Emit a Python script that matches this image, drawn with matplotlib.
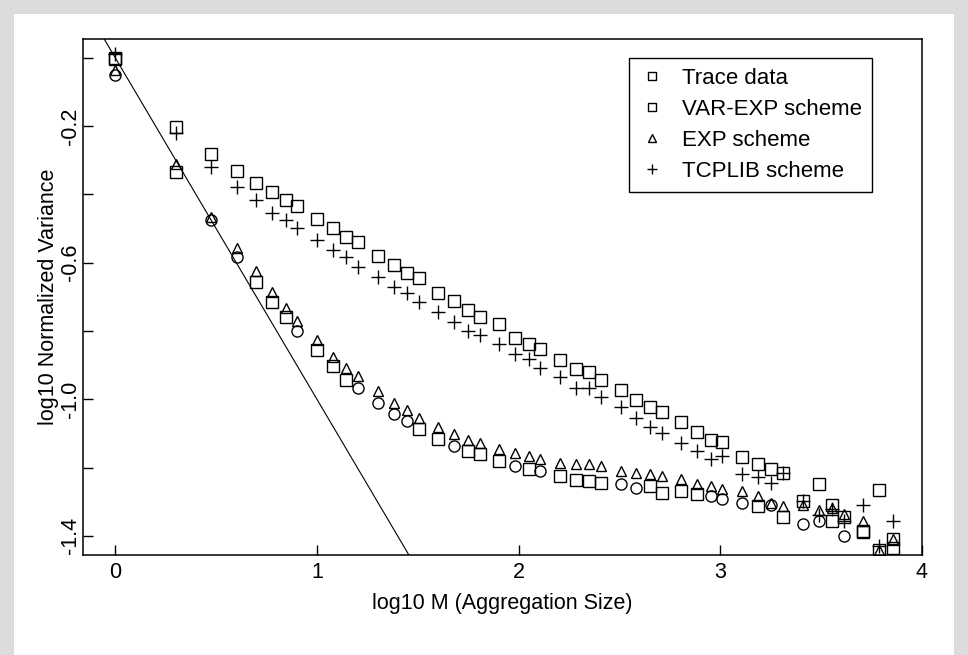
import numpy as np
import matplotlib
matplotlib.use("Agg")
import matplotlib.pyplot as plt
from matplotlib.patches import Rectangle

plt.rcParams['font.family'] = ['Liberation Sans', 'DejaVu Sans']

# aggregation sizes (x axis is log10 M)
M = [1, 2, 3, 4, 5, 6, 7, 8, 10, 12, 14, 16, 20, 24, 28, 32, 40, 48, 56, 64,
     80, 96, 112, 128, 160, 192, 224, 256, 320, 384, 448, 512, 640, 768, 896,
     1024, 1280, 1536, 1792, 2048, 2560, 3072, 3584, 4096, 5120, 6144, 7168]

trace_y = [-0.005, -0.203, -0.282, -0.332, -0.367, -0.394, -0.417, -0.435, -0.473,
           -0.497, -0.526, -0.538, -0.579, -0.608, -0.629, -0.646, -0.690, -0.713,
           -0.740, -0.758, -0.781, -0.822, -0.837, -0.852, -0.884, -0.911, -0.919,
           -0.943, -0.972, -1.001, -1.024, -1.036, -1.068, -1.095, -1.119, -1.125,
           -1.168, -1.189, -1.204, -1.215, -1.297, -1.247, -1.310, -1.346, -1.385,
           -1.267, -1.410]

tcplib_y = [0.010, -0.220, -0.320, -0.379, -0.417, -0.455, -0.476, -0.497, -0.535,
            -0.564, -0.584, -0.614, -0.643, -0.672, -0.690, -0.716, -0.744, -0.775,
            -0.799, -0.813, -0.837, -0.866, -0.881, -0.907, -0.934, -0.966, -0.966,
            -0.992, -1.024, -1.054, -1.080, -1.098, -1.127, -1.150, -1.174, -1.166,
            -1.218, -1.229, -1.245, -1.215, -1.297, -1.340, -1.320, -1.355, -1.310,
            -1.430, -1.355]

exp_y = [-0.036, -0.310, -0.467, -0.558, -0.625, -0.687, -0.732, -0.770, -0.826,
         -0.877, -0.907, -0.931, -0.975, -1.010, -1.031, -1.054, -1.080, -1.101,
         -1.119, -1.127, -1.145, -1.157, -1.166, -1.175, -1.186, -1.189, -1.189,
         -1.195, -1.210, -1.215, -1.218, -1.224, -1.233, -1.247, -1.253, -1.262,
         -1.268, -1.283, -1.303, -1.312, -1.310, -1.325, -1.317, -1.335, -1.355,
         -1.440, -1.410]

varexp_M = [1, 2, 5, 6, 7, 10, 12, 14, 32, 40, 56, 64, 80, 112, 160, 192, 224, 256,
            448, 512, 640, 768, 1536, 2048, 3584, 5120, 6144, 7168]
varexp_y = [0.0, -0.335, -0.658, -0.716, -0.760, -0.855, -0.904, -0.943, -1.086,
            -1.116, -1.151, -1.160, -1.180, -1.204, -1.224, -1.236, -1.239, -1.245,
            -1.253, -1.274, -1.268, -1.277, -1.312, -1.346, -1.355, -1.388, -1.440,
            -1.436]

# round markers seen in the lower group (not in the legend)
circ_M = [1, 3, 4, 8, 16, 20, 24, 28, 48, 96, 128, 320, 384, 896, 1024, 1280,
          1792, 2560, 3072, 4096]
circ_y = [-0.050, -0.476, -0.584, -0.800, -0.966, -1.010, -1.042, -1.065, -1.136,
          -1.195, -1.210, -1.248, -1.259, -1.283, -1.291, -1.303, -1.310, -1.365,
          -1.355, -1.400]

x = np.log10(M)

fig = plt.figure(figsize=(9.68, 6.55), dpi=100, facecolor='#dcdcdc')
fig.patches.append(Rectangle((14 / 968, 0), 940 / 968, 1 - 14 / 655,
                             transform=fig.transFigure, facecolor='white',
                             edgecolor='none', zorder=-5))
ax = fig.add_axes([83 / 968, 1 - 555 / 655, (922 - 83) / 968, (555 - 39) / 655])

mk = dict(linestyle='none', color='black', markerfacecolor='none', markeredgewidth=1.0)
ax.plot(x, trace_y, marker='s', markersize=8.5, label='Trace data', **mk)
ax.plot(np.log10(varexp_M), varexp_y, marker='s', markersize=8.5, label='VAR-EXP scheme', **mk)
ax.plot(x, exp_y, marker='^', markersize=7, label='EXP scheme', **mk)
ax.plot(x, tcplib_y, marker='+', markersize=10, label='TCPLIB scheme', **mk)
ax.plot(np.log10(circ_M), circ_y, marker='o', markersize=8, **mk)

# slope -1 reference line
lx = np.array([-0.2, 1.6])
ax.plot(lx, -lx, color='black', linewidth=0.8)

ax.set_xlim(-0.16, 4.0)
ax.set_ylim(-1.456, 0.055)
ax.set_xticks([0, 1, 2, 3, 4])
ax.set_yticks([0, -0.2, -0.4, -0.6, -0.8, -1.0, -1.2, -1.4])
ax.set_yticklabels(['', '-0.2', '', '-0.6', '', '-1.0', '', '-1.4'],
                   rotation=90, va='center')
ax.tick_params(direction='in', length=7, width=1, labelsize=15.5)
ax.tick_params(axis='x', pad=5)
ax.tick_params(axis='y', pad=1.5)
for s in ax.spines.values():
    s.set_linewidth(1.1)

ax.set_xlabel('log10 M (Aggregation Size)', fontsize=15.5, labelpad=7)
ax.set_ylabel('log10 Normalized Variance', fontsize=15.5, labelpad=1)

leg = ax.legend(loc='upper right', bbox_to_anchor=(0.94, 0.963), fontsize=16,
                frameon=True, fancybox=False, edgecolor='black', framealpha=1,
                markerscale=0.75, handlelength=1.17, handletextpad=0.77,
                labelspacing=0.45, borderpad=0.45, borderaxespad=0)
leg.get_frame().set_linewidth(1.0)

fig.savefig('out.png', dpi=100, facecolor=fig.get_facecolor())
